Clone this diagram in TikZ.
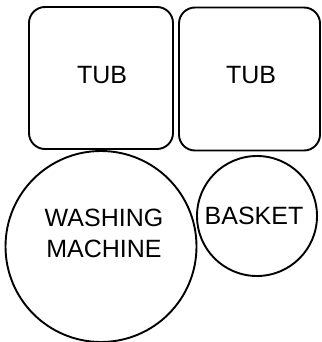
\documentclass[tikz,border=0pt]{standalone}
\usepackage{fontspec}
\setmainfont{Liberation Sans}
\begin{document}
\begin{tikzpicture}[x=1pt,y=-1pt,
  outline/.style={draw=black,line width=1.9pt},
  tubbox/.style={outline,rectangle,rounded corners=16pt,inner sep=0pt},
  roundthing/.style={outline,circle,inner sep=0pt},
  lettering/.style={font=\fontsize{25}{31}\selectfont,align=center,inner sep=0pt}]
\useasboundingbox (0,0) rectangle (321,342);
\node[tubbox,minimum width=144pt,minimum height=142pt] (tub1) at (101,78) {};
\node[tubbox,minimum width=141pt,minimum height=143pt] (tub2) at (249.5,79) {};
\node[lettering] (tub1t) at (102,75) {TUB};
\node[lettering] (tub2t) at (251,75) {TUB};
\node[roundthing,minimum size=191pt] (wash) at (101,246.5) {};
\node[lettering] (washt) at (104,233.5) {WASHING\\MACHINE};
\node[roundthing,minimum size=120pt] (basket) at (257,216) {};
\node[lettering] (baskett) at (254,216) {BASKET};
\end{tikzpicture}
\end{document}
